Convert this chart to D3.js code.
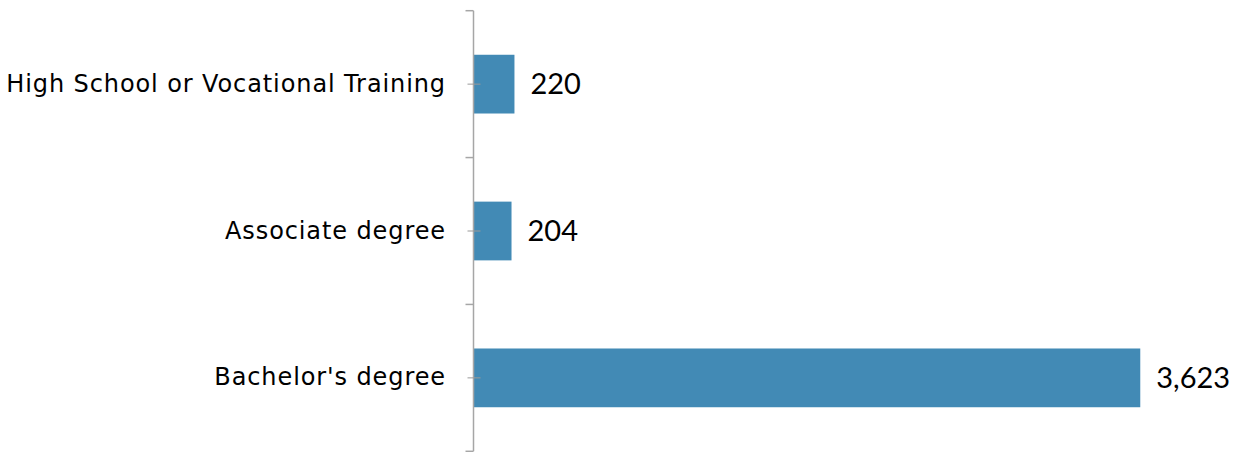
<!DOCTYPE html>
<html><head><meta charset="utf-8">
<script src="https://cdn.jsdelivr.net/npm/d3@7"></script>
<style>body{margin:0;background:#fff}svg{display:block}</style>
</head><body>
<svg id="c" width="1237" height="452"></svg>
<script>
const categories = ["High School or Vocational Training", "Associate degree", "Bachelor's degree"];
const values = [220, 204, 3623];
const labels = ["220", "204", "3,623"];

const svg = d3.select("#c");
const axisX = 473.5;
const y = d3.scaleBand().domain(categories).range([10.7, 451.3]).paddingInner(0.6).paddingOuter(0.3);
const yOuter = d3.scaleBand().domain(categories).range([10.7, 451.3]);
const x = d3.scaleLinear().domain([0, 4000]).range([474, 474 + 735.6]);
const catFont = "'DejaVu Sans', sans-serif";
const valFont = "Lato, 'Noto Sans', sans-serif";

svg.selectAll("rect.bar").data(values).join("rect")
  .attr("class", "bar")
  .attr("x", x(0))
  .attr("y", (d, i) => y(categories[i]))
  .attr("width", d => x(d) - x(0))
  .attr("height", y.bandwidth())
  .attr("fill", "#428ab5");

const g = svg.append("g").attr("stroke", "#a6a6a6").attr("stroke-width", 1.5);
g.append("line").attr("x1", axisX).attr("x2", axisX).attr("y1", 10.7).attr("y2", 451.3);
const bounds = categories.map(c => yOuter(c)).concat([451.3]);
g.selectAll("line.b").data(bounds).join("line").attr("class", "b")
  .attr("x1", axisX - 8).attr("x2", axisX).attr("y1", d => d).attr("y2", d => d);
g.selectAll("line.m").data(categories).join("line").attr("class", "m")
  .attr("stroke-width", 1).attr("stroke", "#999")
  .attr("x1", axisX - 6).attr("x2", axisX + 7)
  .attr("y1", d => yOuter(d) + yOuter.bandwidth() / 2)
  .attr("y2", d => yOuter(d) + yOuter.bandwidth() / 2);

svg.selectAll("text.cat").data(categories).join("text").attr("class", "cat")
  .attr("x", 446).attr("y", d => yOuter(d) + yOuter.bandwidth() / 2 + 7.5)
  .attr("text-anchor", "end")
  .style("font-family", catFont).style("font-size", "24px").style("letter-spacing", "0.9px")
  .attr("fill", "#000")
  .text(d => d);

svg.selectAll("text.val").data(values).join("text").attr("class", "val")
  .attr("x", d => x(d) + 16).attr("y", (d, i) => yOuter(categories[i]) + yOuter.bandwidth() / 2)
  .attr("dy", "0.35em")
  .style("font-family", valFont).style("font-size", "29px").attr("fill", "#000")
  .text((d, i) => labels[i]);
</script>
</body></html>
